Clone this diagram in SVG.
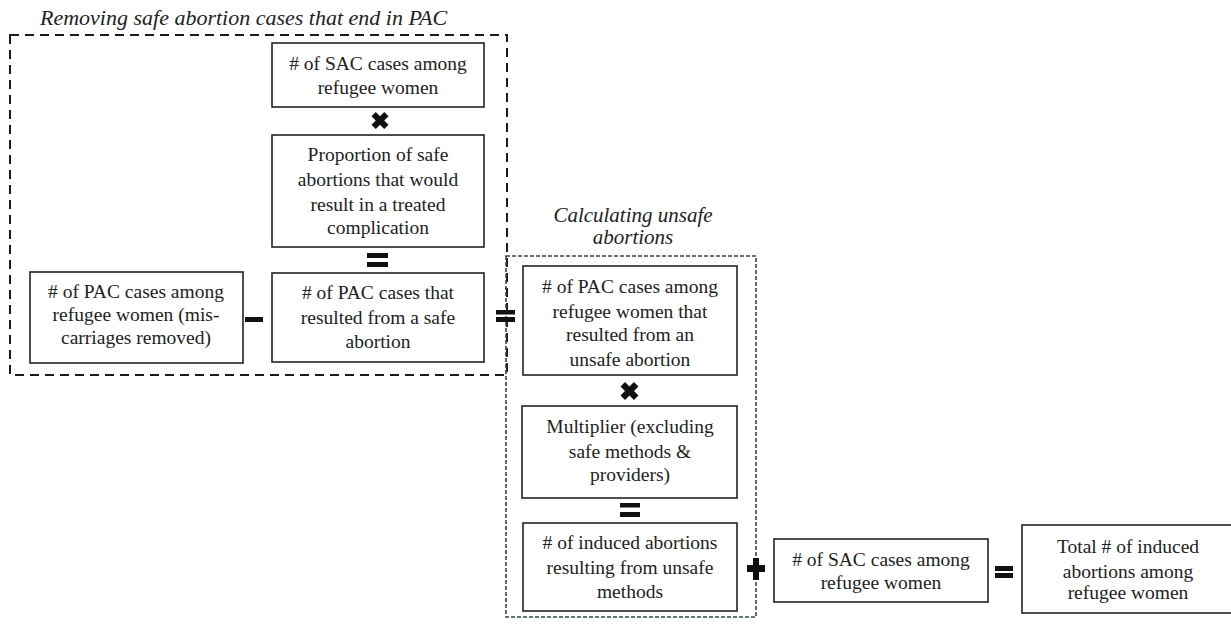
<svg xmlns="http://www.w3.org/2000/svg" width="1231" height="627" viewBox="0 0 1231 627">
<style>
.box{fill:#fff;stroke:#222;stroke-width:1.6}
.t{font-family:"Liberation Serif","Times New Roman",serif;font-size:19.5px;fill:#222;text-anchor:middle}
.it{font-family:"Liberation Serif","Times New Roman",serif;font-size:21px;font-style:italic;fill:#222}
.op{fill:#111}
</style>
<rect width="1231" height="627" fill="#fff"/>
<g id="group-safe">
<rect x="10" y="35" width="497" height="340" fill="none" stroke="#1a1a1a" stroke-width="2" stroke-dasharray="9,6"/>
<text class="it" x="40" y="25" style="font-size:22px">Removing safe abortion cases that end in PAC</text>
</g>
<g id="group-unsafe">
<rect x="506" y="256" width="250" height="361" fill="none" stroke="#2f4a4a" stroke-width="1.6" stroke-dasharray="4,2"/>
<text class="it" x="633" y="222" text-anchor="middle">Calculating unsafe</text>
<text class="it" x="633" y="244" text-anchor="middle">abortions</text>
</g>
<g id="node-sac-top">
<rect class="box" x="272" y="43" width="212" height="64"/>
<text class="t" x="378" y="70"><tspan x="378">#  of SAC cases among</tspan><tspan x="378" dy="24">refugee women</tspan></text>
</g>
<g id="node-proportion">
<rect class="box" x="272" y="135" width="212" height="112"/>
<text class="t" x="378" y="161"><tspan x="378">Proportion of safe</tspan><tspan x="378" dy="25">abortions that would</tspan><tspan x="378" dy="25">result in a treated</tspan><tspan x="378" dy="23">complication</tspan></text>
</g>
<g id="node-pac-safe">
<rect class="box" x="272" y="273" width="212" height="89"/>
<text class="t" x="378" y="299"><tspan x="378">#  of PAC cases that</tspan><tspan x="378" dy="25">resulted from a safe</tspan><tspan x="378" dy="24">abortion</tspan></text>
</g>
<g id="node-pac-all">
<rect class="box" x="30" y="272" width="213" height="91"/>
<text class="t" x="136" y="298"><tspan x="136">#  of PAC cases among</tspan><tspan x="136" dy="23">refugee women (mis-</tspan><tspan x="136" dy="23">carriages removed)</tspan></text>
</g>
<g id="node-pac-unsafe">
<rect class="box" x="523" y="266" width="214" height="109"/>
<text class="t" x="630" y="293"><tspan x="630">#  of PAC cases among</tspan><tspan x="630" dy="25">refugee women that</tspan><tspan x="630" dy="23">resulted from an</tspan><tspan x="630" dy="25">unsafe abortion</tspan></text>
</g>
<g id="node-multiplier">
<rect class="box" x="522" y="406" width="215" height="92"/>
<text class="t" x="630" y="433"><tspan x="630">Multiplier (excluding</tspan><tspan x="630" dy="25">safe methods &amp;</tspan><tspan x="630" dy="23">providers)</tspan></text>
</g>
<g id="node-induced">
<rect class="box" x="523" y="523" width="214" height="88"/>
<text class="t" x="630" y="549"><tspan x="630">#  of induced abortions</tspan><tspan x="630" dy="25">resulting from unsafe</tspan><tspan x="630" dy="24">methods</tspan></text>
</g>
<g id="node-sac-right">
<rect class="box" x="774" y="539" width="214" height="63"/>
<text class="t" x="881" y="566"><tspan x="881">#  of SAC cases among</tspan><tspan x="881" dy="23">refugee women</tspan></text>
</g>
<g id="node-total">
<rect class="box" x="1022" y="525" width="215" height="88"/>
<text class="t" x="1128" y="553"><tspan x="1128">Total # of induced</tspan><tspan x="1128" dy="25">abortions among</tspan><tspan x="1128" dy="21">refugee women</tspan></text>
</g>
<g id="connectors">
<g transform="translate(380,120.5)">
<rect class="op" x="-9" y="-3" width="18" height="6" transform="rotate(45)"/>
<rect class="op" x="-9" y="-3" width="18" height="6" transform="rotate(-45)"/>
</g>
<rect class="op" x="367" y="253" width="21" height="5"/>
<rect class="op" x="367" y="262" width="21" height="5"/>
<rect class="op" x="245" y="317" width="18" height="5"/>
<rect class="op" x="496" y="310" width="19" height="4.5"/>
<rect class="op" x="496" y="317" width="19" height="5"/>
<g transform="translate(629.5,391)">
<rect class="op" x="-9.5" y="-3.2" width="19" height="6.4" transform="rotate(45)"/>
<rect class="op" x="-9.5" y="-3.2" width="19" height="6.4" transform="rotate(-45)"/>
</g>
<rect class="op" x="620" y="503" width="20" height="4.5"/>
<rect class="op" x="620" y="512" width="20" height="5"/>
<rect class="op" x="753" y="558" width="6" height="22"/>
<rect class="op" x="747" y="565" width="18" height="7"/>
<rect class="op" x="995" y="566" width="18" height="5"/>
<rect class="op" x="995" y="573" width="18" height="5"/>
</g>
</svg>
